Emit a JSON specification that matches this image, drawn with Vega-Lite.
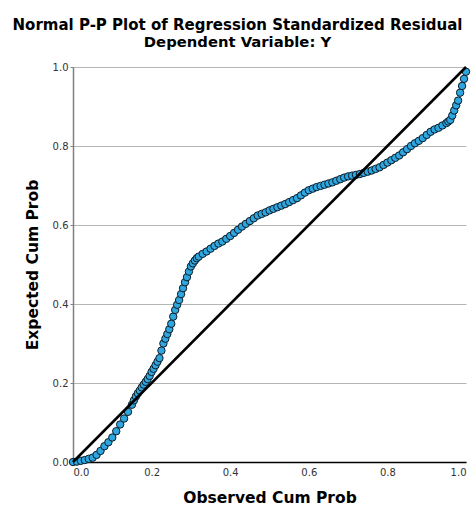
{
  "$schema": "https://vega.github.io/schema/vega-lite/v6.json",
  "width": 393,
  "height": 395,
  "autosize": {"type": "none"},
  "padding": {"left": 73, "top": 67, "right": 9, "bottom": 47},
  "background": "white",
  "title": {
    "text": "Normal P-P Plot of Regression Standardized Residual",
    "subtitle": "Dependent Variable: Y",
    "font": "DejaVu Sans",
    "fontSize": 15,
    "fontWeight": "bold",
    "color": "#000000",
    "subtitleFont": "DejaVu Sans",
    "subtitleFontSize": 14.8,
    "subtitleFontWeight": "bold",
    "subtitleColor": "#000000",
    "subtitlePadding": 2,
    "anchor": "middle",
    "frame": "group",
    "dx": -32,
    "offset": 12
  },
  "config": {
    "view": {"stroke": null},
    "axis": {
      "labelFont": "DejaVu Sans",
      "labelFontSize": 10,
      "labelColor": "#333333",
      "titleFont": "DejaVu Sans",
      "titleFontSize": 15.5,
      "titleFontWeight": "bold",
      "titleColor": "#000000"
    }
  },
  "datasets": {
    "pts": [
      {"obs": 0.000, "exp": 0.000},
      {"obs": 0.010, "exp": 0.001},
      {"obs": 0.020, "exp": 0.003},
      {"obs": 0.030, "exp": 0.005},
      {"obs": 0.040, "exp": 0.008},
      {"obs": 0.050, "exp": 0.011},
      {"obs": 0.060, "exp": 0.018},
      {"obs": 0.070, "exp": 0.028},
      {"obs": 0.080, "exp": 0.040},
      {"obs": 0.090, "exp": 0.050},
      {"obs": 0.100, "exp": 0.062},
      {"obs": 0.110, "exp": 0.078},
      {"obs": 0.120, "exp": 0.095},
      {"obs": 0.130, "exp": 0.110},
      {"obs": 0.140, "exp": 0.127},
      {"obs": 0.150, "exp": 0.145},
      {"obs": 0.155, "exp": 0.156},
      {"obs": 0.160, "exp": 0.166},
      {"obs": 0.165, "exp": 0.174},
      {"obs": 0.170, "exp": 0.181},
      {"obs": 0.175, "exp": 0.189},
      {"obs": 0.180, "exp": 0.196},
      {"obs": 0.185, "exp": 0.203},
      {"obs": 0.190, "exp": 0.210},
      {"obs": 0.195, "exp": 0.218},
      {"obs": 0.200, "exp": 0.228},
      {"obs": 0.205, "exp": 0.236},
      {"obs": 0.210, "exp": 0.245},
      {"obs": 0.215, "exp": 0.254},
      {"obs": 0.220, "exp": 0.263},
      {"obs": 0.225, "exp": 0.282},
      {"obs": 0.230, "exp": 0.300},
      {"obs": 0.235, "exp": 0.312},
      {"obs": 0.240, "exp": 0.324},
      {"obs": 0.245, "exp": 0.336},
      {"obs": 0.250, "exp": 0.350},
      {"obs": 0.255, "exp": 0.368},
      {"obs": 0.260, "exp": 0.385},
      {"obs": 0.265, "exp": 0.398},
      {"obs": 0.270, "exp": 0.410},
      {"obs": 0.275, "exp": 0.425},
      {"obs": 0.280, "exp": 0.440},
      {"obs": 0.285, "exp": 0.455},
      {"obs": 0.290, "exp": 0.468},
      {"obs": 0.295, "exp": 0.482},
      {"obs": 0.300, "exp": 0.495},
      {"obs": 0.305, "exp": 0.503},
      {"obs": 0.310, "exp": 0.510},
      {"obs": 0.315, "exp": 0.516},
      {"obs": 0.320, "exp": 0.520},
      {"obs": 0.330, "exp": 0.527},
      {"obs": 0.340, "exp": 0.533},
      {"obs": 0.350, "exp": 0.540},
      {"obs": 0.360, "exp": 0.547},
      {"obs": 0.370, "exp": 0.553},
      {"obs": 0.380, "exp": 0.558},
      {"obs": 0.390, "exp": 0.565},
      {"obs": 0.400, "exp": 0.572},
      {"obs": 0.410, "exp": 0.580},
      {"obs": 0.420, "exp": 0.588},
      {"obs": 0.430, "exp": 0.596},
      {"obs": 0.440, "exp": 0.603},
      {"obs": 0.450, "exp": 0.610},
      {"obs": 0.460, "exp": 0.617},
      {"obs": 0.470, "exp": 0.624},
      {"obs": 0.480, "exp": 0.628},
      {"obs": 0.490, "exp": 0.632},
      {"obs": 0.500, "exp": 0.637},
      {"obs": 0.510, "exp": 0.641},
      {"obs": 0.520, "exp": 0.645},
      {"obs": 0.530, "exp": 0.649},
      {"obs": 0.540, "exp": 0.653},
      {"obs": 0.550, "exp": 0.658},
      {"obs": 0.560, "exp": 0.663},
      {"obs": 0.570, "exp": 0.668},
      {"obs": 0.580, "exp": 0.675},
      {"obs": 0.590, "exp": 0.682},
      {"obs": 0.600, "exp": 0.688},
      {"obs": 0.610, "exp": 0.692},
      {"obs": 0.620, "exp": 0.696},
      {"obs": 0.630, "exp": 0.699},
      {"obs": 0.640, "exp": 0.702},
      {"obs": 0.650, "exp": 0.705},
      {"obs": 0.660, "exp": 0.708},
      {"obs": 0.670, "exp": 0.712},
      {"obs": 0.680, "exp": 0.716},
      {"obs": 0.690, "exp": 0.720},
      {"obs": 0.700, "exp": 0.723},
      {"obs": 0.710, "exp": 0.725},
      {"obs": 0.720, "exp": 0.727},
      {"obs": 0.730, "exp": 0.729},
      {"obs": 0.740, "exp": 0.732},
      {"obs": 0.750, "exp": 0.735},
      {"obs": 0.760, "exp": 0.738},
      {"obs": 0.770, "exp": 0.742},
      {"obs": 0.780, "exp": 0.746},
      {"obs": 0.790, "exp": 0.752},
      {"obs": 0.800, "exp": 0.758},
      {"obs": 0.810, "exp": 0.764},
      {"obs": 0.820, "exp": 0.770},
      {"obs": 0.830, "exp": 0.776},
      {"obs": 0.840, "exp": 0.784},
      {"obs": 0.850, "exp": 0.792},
      {"obs": 0.860, "exp": 0.800},
      {"obs": 0.870, "exp": 0.807},
      {"obs": 0.880, "exp": 0.813},
      {"obs": 0.890, "exp": 0.820},
      {"obs": 0.900, "exp": 0.828},
      {"obs": 0.910, "exp": 0.836},
      {"obs": 0.920, "exp": 0.842},
      {"obs": 0.930, "exp": 0.846},
      {"obs": 0.940, "exp": 0.852},
      {"obs": 0.950, "exp": 0.858},
      {"obs": 0.955, "exp": 0.862},
      {"obs": 0.960, "exp": 0.866},
      {"obs": 0.965, "exp": 0.877},
      {"obs": 0.970, "exp": 0.890},
      {"obs": 0.975, "exp": 0.903},
      {"obs": 0.980, "exp": 0.915},
      {"obs": 0.985, "exp": 0.935},
      {"obs": 0.990, "exp": 0.952},
      {"obs": 0.995, "exp": 0.970},
      {"obs": 1.000, "exp": 0.988}
    ],
    "diag": [
      {"obs": 0, "exp": 0},
      {"obs": 1, "exp": 1}
    ]
  },
  "layer": [
    {
      "data": {"name": "pts"},
      "mark": {"type": "point", "shape": "circle", "filled": true, "fill": "#2ea7e0", "stroke": "#0d1b26", "strokeWidth": 1, "size": 55, "opacity": 1},
      "encoding": {
        "x": {
          "field": "obs", "type": "quantitative",
          "scale": {"domain": [0, 1], "nice": false, "zero": false},
          "axis": {
            "title": "Observed Cum Prob",
            "values": [0, 0.2, 0.4, 0.6, 0.8, 1.0],
            "format": ".1f",
            "grid": false,
            "domainColor": "#000000",
            "domainWidth": 1.5,
            "ticks": false,
            "labelPadding": 5,
            "titlePadding": 13
          }
        },
        "y": {
          "field": "exp", "type": "quantitative",
          "scale": {"domain": [0, 1], "nice": false, "zero": false},
          "axis": {
            "title": "Expected Cum Prob",
            "values": [0, 0.2, 0.4, 0.6, 0.8, 1.0],
            "format": ".1f",
            "grid": true,
            "gridColor": "#b5b5b5",
            "gridWidth": 1,
            "domainColor": "#808080",
            "domainWidth": 1.5,
            "ticks": true,
            "tickSize": 3,
            "tickColor": "#808080",
            "labelPadding": 2,
            "titlePadding": 12
          }
        }
      }
    },
    {
      "data": {"name": "diag"},
      "mark": {"type": "line", "color": "#000000", "strokeWidth": 2.5},
      "encoding": {
        "x": {"field": "obs", "type": "quantitative"},
        "y": {"field": "exp", "type": "quantitative"}
      }
    }
  ]
}
